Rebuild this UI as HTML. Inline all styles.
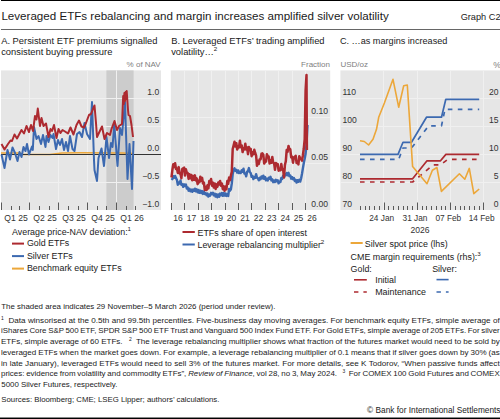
<!DOCTYPE html>
<html><head><meta charset="utf-8"><style>
html,body{margin:0;padding:0;background:#fff;}
body{width:500px;height:419px;position:relative;overflow:hidden;font-family:"Liberation Sans", sans-serif;}
div{font-family:"Liberation Sans", sans-serif;}
.j{position:absolute;left:1.3px;font-size:8.1px;line-height:8.1px;color:#1a1a1a;white-space:pre;}
.j sup{font-size:5px;vertical-align:3px;line-height:0;}
sup{line-height:0;}
svg{position:absolute;left:0;top:0;}
</style></head><body>
<svg width="500" height="419" viewBox="0 0 500 419">
<rect x="1.00" y="70.40" width="160.00" height="139.60" fill="#e6e6e6"/>
<rect x="106.40" y="70.40" width="27.20" height="139.60" fill="#cccccc"/>
<line x1="29.50" y1="70.40" x2="29.50" y2="210.00" stroke="#f0f0f0" stroke-width="1"/>
<line x1="58.50" y1="70.40" x2="58.50" y2="210.00" stroke="#f0f0f0" stroke-width="1"/>
<line x1="87.50" y1="70.40" x2="87.50" y2="210.00" stroke="#f0f0f0" stroke-width="1"/>
<line x1="116.50" y1="70.40" x2="116.50" y2="210.00" stroke="#f0f0f0" stroke-width="1"/>
<line x1="1.00" y1="98.50" x2="161.00" y2="98.50" stroke="#f0f0f0" stroke-width="1"/>
<line x1="1.00" y1="126.50" x2="161.00" y2="126.50" stroke="#f0f0f0" stroke-width="1"/>
<line x1="1.00" y1="182.50" x2="161.00" y2="182.50" stroke="#f0f0f0" stroke-width="1"/>
<line x1="1.50" y1="202.50" x2="1.50" y2="210.00" stroke="#5a5a5a" stroke-width="1"/>
<line x1="29.50" y1="202.50" x2="29.50" y2="210.00" stroke="#5a5a5a" stroke-width="1"/>
<line x1="58.50" y1="202.50" x2="58.50" y2="210.00" stroke="#5a5a5a" stroke-width="1"/>
<line x1="87.50" y1="202.50" x2="87.50" y2="210.00" stroke="#5a5a5a" stroke-width="1"/>
<line x1="116.50" y1="202.50" x2="116.50" y2="210.00" stroke="#5a5a5a" stroke-width="1"/>
<line x1="11.50" y1="206.00" x2="11.50" y2="210.00" stroke="#5a5a5a" stroke-width="1"/>
<line x1="19.50" y1="206.00" x2="19.50" y2="210.00" stroke="#5a5a5a" stroke-width="1"/>
<line x1="39.50" y1="206.00" x2="39.50" y2="210.00" stroke="#5a5a5a" stroke-width="1"/>
<line x1="49.50" y1="206.00" x2="49.50" y2="210.00" stroke="#5a5a5a" stroke-width="1"/>
<line x1="68.50" y1="206.00" x2="68.50" y2="210.00" stroke="#5a5a5a" stroke-width="1"/>
<line x1="78.50" y1="206.00" x2="78.50" y2="210.00" stroke="#5a5a5a" stroke-width="1"/>
<line x1="97.50" y1="206.00" x2="97.50" y2="210.00" stroke="#5a5a5a" stroke-width="1"/>
<line x1="106.50" y1="206.00" x2="106.50" y2="210.00" stroke="#5a5a5a" stroke-width="1"/>
<line x1="126.50" y1="206.00" x2="126.50" y2="210.00" stroke="#5a5a5a" stroke-width="1"/>
<line x1="135.50" y1="206.00" x2="135.50" y2="210.00" stroke="#5a5a5a" stroke-width="1"/>
<rect x="170.80" y="70.40" width="159.40" height="139.60" fill="#e6e6e6"/>
<line x1="184.50" y1="70.40" x2="184.50" y2="210.00" stroke="#f0f0f0" stroke-width="1"/>
<line x1="198.50" y1="70.40" x2="198.50" y2="210.00" stroke="#f0f0f0" stroke-width="1"/>
<line x1="211.50" y1="70.40" x2="211.50" y2="210.00" stroke="#f0f0f0" stroke-width="1"/>
<line x1="225.50" y1="70.40" x2="225.50" y2="210.00" stroke="#f0f0f0" stroke-width="1"/>
<line x1="238.50" y1="70.40" x2="238.50" y2="210.00" stroke="#f0f0f0" stroke-width="1"/>
<line x1="251.50" y1="70.40" x2="251.50" y2="210.00" stroke="#f0f0f0" stroke-width="1"/>
<line x1="265.50" y1="70.40" x2="265.50" y2="210.00" stroke="#f0f0f0" stroke-width="1"/>
<line x1="278.50" y1="70.40" x2="278.50" y2="210.00" stroke="#f0f0f0" stroke-width="1"/>
<line x1="292.50" y1="70.40" x2="292.50" y2="210.00" stroke="#f0f0f0" stroke-width="1"/>
<line x1="305.50" y1="70.40" x2="305.50" y2="210.00" stroke="#f0f0f0" stroke-width="1"/>
<line x1="170.80" y1="117.50" x2="330.20" y2="117.50" stroke="#f0f0f0" stroke-width="1"/>
<line x1="170.80" y1="163.50" x2="330.20" y2="163.50" stroke="#f0f0f0" stroke-width="1"/>
<line x1="171.50" y1="203.00" x2="171.50" y2="210.00" stroke="#5a5a5a" stroke-width="1"/>
<line x1="184.50" y1="203.00" x2="184.50" y2="210.00" stroke="#5a5a5a" stroke-width="1"/>
<line x1="198.50" y1="203.00" x2="198.50" y2="210.00" stroke="#5a5a5a" stroke-width="1"/>
<line x1="211.50" y1="203.00" x2="211.50" y2="210.00" stroke="#5a5a5a" stroke-width="1"/>
<line x1="225.50" y1="203.00" x2="225.50" y2="210.00" stroke="#5a5a5a" stroke-width="1"/>
<line x1="238.50" y1="203.00" x2="238.50" y2="210.00" stroke="#5a5a5a" stroke-width="1"/>
<line x1="251.50" y1="203.00" x2="251.50" y2="210.00" stroke="#5a5a5a" stroke-width="1"/>
<line x1="265.50" y1="203.00" x2="265.50" y2="210.00" stroke="#5a5a5a" stroke-width="1"/>
<line x1="278.50" y1="203.00" x2="278.50" y2="210.00" stroke="#5a5a5a" stroke-width="1"/>
<line x1="292.50" y1="203.00" x2="292.50" y2="210.00" stroke="#5a5a5a" stroke-width="1"/>
<line x1="305.50" y1="203.00" x2="305.50" y2="210.00" stroke="#5a5a5a" stroke-width="1"/>
<rect x="340.40" y="70.40" width="159.60" height="139.60" fill="#e6e6e6"/>
<line x1="383.50" y1="70.40" x2="383.50" y2="210.00" stroke="#f0f0f0" stroke-width="1"/>
<line x1="417.50" y1="70.40" x2="417.50" y2="210.00" stroke="#f0f0f0" stroke-width="1"/>
<line x1="450.50" y1="70.40" x2="450.50" y2="210.00" stroke="#f0f0f0" stroke-width="1"/>
<line x1="483.50" y1="70.40" x2="483.50" y2="210.00" stroke="#f0f0f0" stroke-width="1"/>
<line x1="340.40" y1="98.50" x2="500.00" y2="98.50" stroke="#f0f0f0" stroke-width="1"/>
<line x1="340.40" y1="126.50" x2="500.00" y2="126.50" stroke="#f0f0f0" stroke-width="1"/>
<line x1="340.40" y1="154.50" x2="500.00" y2="154.50" stroke="#f0f0f0" stroke-width="1"/>
<line x1="340.40" y1="182.50" x2="500.00" y2="182.50" stroke="#f0f0f0" stroke-width="1"/>
<line x1="360.50" y1="206.00" x2="360.50" y2="210.00" stroke="#5a5a5a" stroke-width="1"/>
<line x1="365.50" y1="206.00" x2="365.50" y2="210.00" stroke="#5a5a5a" stroke-width="1"/>
<line x1="369.50" y1="206.00" x2="369.50" y2="210.00" stroke="#5a5a5a" stroke-width="1"/>
<line x1="374.50" y1="206.00" x2="374.50" y2="210.00" stroke="#5a5a5a" stroke-width="1"/>
<line x1="379.50" y1="206.00" x2="379.50" y2="210.00" stroke="#5a5a5a" stroke-width="1"/>
<line x1="384.50" y1="202.50" x2="384.50" y2="210.00" stroke="#5a5a5a" stroke-width="1"/>
<line x1="388.50" y1="206.00" x2="388.50" y2="210.00" stroke="#5a5a5a" stroke-width="1"/>
<line x1="393.50" y1="206.00" x2="393.50" y2="210.00" stroke="#5a5a5a" stroke-width="1"/>
<line x1="398.50" y1="206.00" x2="398.50" y2="210.00" stroke="#5a5a5a" stroke-width="1"/>
<line x1="403.50" y1="206.00" x2="403.50" y2="210.00" stroke="#5a5a5a" stroke-width="1"/>
<line x1="407.50" y1="206.00" x2="407.50" y2="210.00" stroke="#5a5a5a" stroke-width="1"/>
<line x1="412.50" y1="206.00" x2="412.50" y2="210.00" stroke="#5a5a5a" stroke-width="1"/>
<line x1="417.50" y1="202.50" x2="417.50" y2="210.00" stroke="#5a5a5a" stroke-width="1"/>
<line x1="422.50" y1="206.00" x2="422.50" y2="210.00" stroke="#5a5a5a" stroke-width="1"/>
<line x1="426.50" y1="206.00" x2="426.50" y2="210.00" stroke="#5a5a5a" stroke-width="1"/>
<line x1="431.50" y1="206.00" x2="431.50" y2="210.00" stroke="#5a5a5a" stroke-width="1"/>
<line x1="436.50" y1="206.00" x2="436.50" y2="210.00" stroke="#5a5a5a" stroke-width="1"/>
<line x1="441.50" y1="206.00" x2="441.50" y2="210.00" stroke="#5a5a5a" stroke-width="1"/>
<line x1="445.50" y1="206.00" x2="445.50" y2="210.00" stroke="#5a5a5a" stroke-width="1"/>
<line x1="450.50" y1="202.50" x2="450.50" y2="210.00" stroke="#5a5a5a" stroke-width="1"/>
<line x1="455.50" y1="206.00" x2="455.50" y2="210.00" stroke="#5a5a5a" stroke-width="1"/>
<line x1="460.50" y1="206.00" x2="460.50" y2="210.00" stroke="#5a5a5a" stroke-width="1"/>
<line x1="464.50" y1="206.00" x2="464.50" y2="210.00" stroke="#5a5a5a" stroke-width="1"/>
<line x1="469.50" y1="206.00" x2="469.50" y2="210.00" stroke="#5a5a5a" stroke-width="1"/>
<line x1="474.50" y1="206.00" x2="474.50" y2="210.00" stroke="#5a5a5a" stroke-width="1"/>
<line x1="479.50" y1="206.00" x2="479.50" y2="210.00" stroke="#5a5a5a" stroke-width="1"/>
<line x1="483.50" y1="202.50" x2="483.50" y2="210.00" stroke="#5a5a5a" stroke-width="1"/>
<line x1="12.00" y1="243.60" x2="24.00" y2="243.60" stroke="#ad2a30" stroke-width="2"/>
<line x1="12.00" y1="256.10" x2="24.00" y2="256.10" stroke="#3c69b0" stroke-width="2"/>
<line x1="12.00" y1="268.60" x2="24.00" y2="268.60" stroke="#eca73a" stroke-width="2"/>
<line x1="182.50" y1="232.00" x2="194.80" y2="232.00" stroke="#ad2a30" stroke-width="2"/>
<line x1="182.50" y1="244.50" x2="194.80" y2="244.50" stroke="#3c69b0" stroke-width="2"/>
<line x1="350.60" y1="243.00" x2="362.70" y2="243.00" stroke="#eca73a" stroke-width="2"/>
<line x1="354.00" y1="279.80" x2="366.80" y2="279.80" stroke="#ad2a30" stroke-width="1.6"/>
<line x1="354.00" y1="292.00" x2="366.80" y2="292.00" stroke="#ad2a30" stroke-width="1.6" stroke-dasharray="4.4 5"/>
<line x1="436.50" y1="279.60" x2="448.60" y2="279.60" stroke="#3c69b0" stroke-width="1.6"/>
<line x1="436.50" y1="292.00" x2="448.60" y2="292.00" stroke="#3c69b0" stroke-width="1.6" stroke-dasharray="4.4 5"/>
<polyline points="1.00,153.00 20.00,153.00 22.00,154.50 50.00,154.50 62.00,153.00 80.00,152.80 123.00,153.00 133.50,153.50" fill="none" stroke="#eca73a" stroke-width="1.6" stroke-linejoin="round"/>
<line x1="1.00" y1="154.50" x2="161.00" y2="154.50" stroke="#333333" stroke-width="1"/>
<polyline points="1.50,154.50 4.50,168.00 7.50,150.00 10.00,159.50 12.50,147.50 15.00,153.00 17.50,161.00 19.50,152.00 21.50,157.00 23.50,147.00 25.50,151.00 27.00,144.00 29.00,154.50 32.00,146.50 32.80,150.00 34.00,127.00 36.50,139.00 38.50,136.00 41.00,144.00 43.00,135.00 45.50,147.00 46.50,136.00 48.50,142.00 50.50,135.00 52.50,138.00 53.50,134.00 56.00,149.00 58.00,140.00 60.00,145.00 62.00,139.00 64.00,150.00 66.00,142.00 68.00,151.00 70.00,136.00 72.50,149.00 74.50,151.00 77.00,134.00 79.50,132.00 82.00,137.00 84.50,123.00 87.00,134.00 90.00,139.00 92.00,102.00 94.00,160.00 94.50,170.00 97.00,181.00 98.50,158.00 101.50,148.50 104.00,166.00 106.50,137.00 109.00,158.00 111.00,143.00 112.50,147.00 114.30,124.00 117.50,166.00 120.00,128.00 122.00,135.00 125.00,102.00 127.50,179.00 129.50,144.00 132.00,189.00 133.50,141.00" fill="none" stroke="#3c69b0" stroke-width="2.0" stroke-linejoin="round"/>
<polyline points="1.50,144.00 4.50,149.50 8.00,144.00 10.50,140.50 12.00,141.00 14.50,134.50 17.00,138.50 21.50,130.00 24.00,133.50 26.50,126.00 29.00,132.00 31.00,125.00 33.00,131.00 35.00,116.00 36.50,119.50 37.80,108.50 40.00,126.00 41.50,118.00 43.50,126.00 46.00,123.50 48.50,137.00 50.50,129.00 52.00,131.00 54.00,125.00 56.50,138.00 58.50,129.00 60.50,133.00 62.50,130.00 65.00,131.50 68.00,133.50 70.50,127.50 73.50,134.50 76.50,125.00 79.00,120.50 81.50,126.50 84.00,127.50 86.00,123.00 89.00,115.00 91.00,114.00 93.00,109.00 94.50,105.50 96.00,123.00 97.00,137.00 102.00,126.50 104.50,139.00 107.00,133.00 110.00,135.00 111.50,129.00 114.50,121.00 117.00,130.00 119.00,126.00 122.00,124.00 123.20,96.00 123.80,104.00 124.40,93.00 125.00,101.00 125.60,92.00 126.20,99.00 126.70,91.00 127.30,100.00 128.00,110.00 128.50,115.00 130.00,116.00 131.50,125.00 133.00,137.00" fill="none" stroke="#ad2a30" stroke-width="2.0" stroke-linejoin="round"/>
<polyline points="171.50,178.19 172.40,179.19 173.30,176.27 174.20,177.74 175.10,175.89 176.00,178.16 176.90,179.81 177.80,184.70 178.70,182.61 179.60,183.53 180.50,180.50 181.40,184.82 182.30,184.25 183.20,186.80 184.10,184.29 185.00,185.90 185.90,184.47 186.80,188.46 187.70,187.45 188.60,190.67 189.50,188.80 190.40,191.26 191.30,189.64 192.20,191.83 193.10,189.60 194.00,190.88 194.90,188.65 195.80,191.29 196.70,189.32 197.60,192.26 198.50,189.88 199.40,192.78 200.30,190.62 201.20,193.12 202.10,191.05 203.00,193.94 203.90,191.56 204.80,194.09 205.70,193.13 206.60,195.20 207.50,193.53 208.40,196.59 209.30,194.54 210.20,195.67 211.10,192.84 212.00,193.95 212.90,192.68 213.80,195.33 214.70,193.67 215.60,196.61 216.50,194.29 217.40,197.24 218.30,194.45 219.20,196.78 220.10,193.55 221.00,195.15 221.90,193.03 222.80,195.87 223.70,192.99 224.60,195.51 225.50,193.42 226.40,195.94 227.30,194.28 228.20,195.99 229.10,188.97 230.00,190.71 230.90,189.26 231.80,183.42 232.70,174.38 233.60,170.02 234.50,168.38 235.40,170.74 236.30,169.79 237.20,172.53 238.10,170.42 239.00,173.01 239.90,171.78 240.80,172.97 241.70,170.34 242.60,171.73 243.50,168.69 244.40,173.59 245.30,173.43 246.20,176.32 247.10,171.74 248.00,171.08 248.90,168.07 249.80,172.12 250.70,172.99 251.60,176.90 252.50,175.97 253.40,179.05 254.30,177.14 255.20,177.78 256.10,174.13 257.00,177.73 257.90,178.22 258.80,180.37 259.70,177.77 260.60,179.21 261.50,176.48 262.40,178.37 263.30,175.70 264.20,178.81 265.10,177.05 266.00,180.40 266.90,178.87 267.80,180.48 268.70,177.79 269.60,178.85 270.50,176.82 271.40,180.46 272.30,179.38 273.20,182.17 274.10,180.44 275.00,182.05 275.90,179.82 276.80,181.29 277.70,180.23 278.60,183.31 279.50,181.74 280.40,182.12 281.30,178.09 282.20,178.89 283.10,175.78 284.00,177.32 284.90,174.49 285.80,175.30 286.70,173.04 287.60,175.32 288.50,172.84 289.40,176.13 290.30,175.44 291.20,178.65 292.10,177.14 293.00,179.25 293.90,178.05 294.80,180.99 295.70,179.86 296.60,182.55 297.50,180.20 298.40,181.74 299.30,179.62 300.20,181.60 301.10,178.50 302.00,173.75 302.90,168.24 303.80,162.94 304.70,158.80 305.60,153.77 306.50,144.08 307.40,127.00 307.50,125.00" fill="none" stroke="#3c69b0" stroke-width="2.4" stroke-linejoin="round"/>
<polyline points="171.50,177.51 172.40,169.77 173.30,164.21 174.20,166.87 175.10,163.28 176.00,169.04 176.90,168.61 177.80,172.86 178.70,167.12 179.60,173.52 180.50,173.64 181.40,178.16 182.30,168.80 183.20,168.39 184.10,167.64 185.00,175.61 185.90,169.32 186.80,172.55 187.70,172.88 188.60,178.88 189.50,174.23 190.40,178.28 191.30,175.07 192.20,180.16 193.10,175.95 194.00,179.68 194.90,175.36 195.80,180.39 196.70,178.40 197.60,184.14 198.50,180.89 199.40,182.25 200.30,176.66 201.20,180.66 202.10,177.86 203.00,183.43 203.90,182.67 204.80,190.03 205.70,186.97 206.60,189.93 207.50,185.15 208.40,188.40 209.30,180.96 210.20,183.54 211.10,179.08 212.00,185.68 212.90,182.71 213.80,187.61 214.70,183.43 215.60,188.91 216.50,184.38 217.40,186.86 218.30,182.43 219.20,184.50 220.10,180.93 221.00,185.78 221.90,183.56 222.80,189.15 223.70,186.32 224.60,190.82 225.50,186.57 226.40,189.25 227.30,181.03 228.20,183.76 229.10,177.62 230.00,180.31 230.90,175.49 231.80,171.69 232.70,149.06 233.60,145.53 234.50,141.75 235.40,146.43 236.30,143.30 237.20,149.52 238.10,146.63 239.00,147.34 239.90,140.71 240.80,147.19 241.70,145.38 242.60,152.08 243.50,148.60 244.40,149.46 245.30,143.79 246.20,149.43 247.10,147.31 248.00,154.17 248.90,147.00 249.80,149.95 250.70,148.95 251.60,156.22 252.50,152.26 253.40,154.30 254.30,149.78 255.20,152.97 256.10,155.69 257.00,165.83 257.90,160.89 258.80,164.02 259.70,159.28 260.60,159.22 261.50,153.69 262.40,153.36 263.30,154.72 264.20,163.50 265.10,161.98 266.00,161.62 266.90,154.22 267.80,156.25 268.70,156.55 269.60,163.51 270.50,160.19 271.40,162.71 272.30,157.07 273.20,162.67 274.10,163.19 275.00,169.83 275.90,162.90 276.80,164.52 277.70,164.04 278.60,170.65 279.50,169.56 280.40,170.28 281.30,163.95 282.20,169.61 283.10,169.33 284.00,177.47 284.90,165.07 285.80,161.31 286.70,149.95 287.60,151.92 288.50,145.94 289.40,149.01 290.30,149.30 291.20,157.46 292.10,156.58 293.00,162.69 293.90,157.39 294.80,157.09 295.70,155.86 296.60,162.99 297.50,162.02 298.40,164.36 299.30,156.17 300.20,158.38 301.10,159.16 302.00,160.61 302.90,155.26 303.80,148.54 304.70,139.05 305.60,90.57 306.50,75.00 306.90,150.00" fill="none" stroke="#ad2a30" stroke-width="2.5" stroke-linejoin="round"/>
<polyline points="360.00,182.00 412.60,182.00 433.30,164.80 440.50,164.80 447.70,159.40 479.20,159.40" fill="none" stroke="#ad2a30" stroke-width="1.7" stroke-linejoin="round" stroke-dasharray="4.6 5.4"/>
<polyline points="360.00,178.80 412.60,178.80 427.00,160.80 440.50,160.80 445.90,154.40 479.20,154.40" fill="none" stroke="#ad2a30" stroke-width="1.7" stroke-linejoin="round"/>
<polyline points="360.00,159.40 398.70,159.40 402.90,148.00 411.50,148.00 428.70,125.80 441.50,125.80 445.00,109.30 479.20,109.30" fill="none" stroke="#3c69b0" stroke-width="1.7" stroke-linejoin="round" stroke-dasharray="4.6 5.4"/>
<polyline points="360.00,154.40 398.00,154.40 403.00,142.30 411.50,142.30 426.50,117.20 441.50,117.20 445.80,99.30 479.20,99.30" fill="none" stroke="#3c69b0" stroke-width="1.7" stroke-linejoin="round"/>
<polyline points="360.00,140.80 364.30,141.50 368.60,145.00 373.00,139.30 376.50,129.30 378.70,117.30 384.40,103.00 393.00,79.30 398.70,107.20 403.70,85.80 407.30,85.00 412.60,166.60 427.00,183.70 432.40,170.20 436.90,167.50 441.40,191.40 459.40,173.80 464.80,179.20 469.30,168.40 473.80,193.60 479.20,189.00" fill="none" stroke="#eca73a" stroke-width="1.6" stroke-linejoin="round"/>
</svg>
<div style="position:absolute;left:1px;top:0px;width:499px;height:1px;background:#000"></div>
<div style="position:absolute;left:1.40px;top:9.98px;font-size:11.6px;line-height:11.6px;color:#1a1a1a;white-space:pre;">Leveraged ETFs rebalancing and margin increases amplified silver volatility</div>
<div style="position:absolute;right:-0.50px;top:12.61px;font-size:9.2px;line-height:9.2px;color:#1a1a1a;white-space:pre;">Graph C2</div>
<div style="position:absolute;left:1px;top:29px;width:499px;height:1px;background:#666"></div>
<div style="position:absolute;left:1.20px;top:36.59px;font-size:9.35px;line-height:9.35px;color:#1a1a1a;white-space:pre;">A. Persistent ETF premiums signalled</div>
<div style="position:absolute;left:1.20px;top:47.79px;font-size:9.35px;line-height:9.35px;color:#1a1a1a;white-space:pre;">consistent buying pressure</div>
<div style="position:absolute;left:171.20px;top:36.59px;font-size:9.35px;line-height:9.35px;color:#1a1a1a;white-space:pre;">B. Leveraged ETFs’ trading amplified</div>
<div style="position:absolute;left:171.20px;top:47.79px;font-size:9.35px;line-height:9.35px;color:#1a1a1a;white-space:pre;">volatility…<sup style="font-size:6.2px;vertical-align:4px;line-height:0">2</sup></div>
<div style="position:absolute;left:339.90px;top:36.75px;font-size:9.15px;line-height:9.15px;color:#1a1a1a;white-space:pre;">C. …as margins increased</div>
<div style="position:absolute;right:339.30px;top:61.33px;font-size:8.0px;line-height:8.0px;color:#808080;white-space:pre;">% of NAV</div>
<div style="position:absolute;right:170.00px;top:61.33px;font-size:8.0px;line-height:8.0px;color:#808080;white-space:pre;">Fraction</div>
<div style="position:absolute;left:340.40px;top:61.33px;font-size:8.0px;line-height:8.0px;color:#808080;white-space:pre;">USD/oz</div>
<div style="position:absolute;right:-1.00px;top:61.02px;font-size:8.6px;line-height:8.6px;color:#808080;white-space:pre;">%</div>
<div style="position:absolute;right:340.80px;top:88.42px;font-size:8.6px;line-height:8.6px;color:#333333;white-space:pre;">1.0</div>
<div style="position:absolute;right:340.80px;top:116.42px;font-size:8.6px;line-height:8.6px;color:#333333;white-space:pre;">0.5</div>
<div style="position:absolute;right:340.80px;top:144.42px;font-size:8.6px;line-height:8.6px;color:#333333;white-space:pre;">0.0</div>
<div style="position:absolute;right:340.80px;top:172.42px;font-size:8.6px;line-height:8.6px;color:#333333;white-space:pre;">−0.5</div>
<div style="position:absolute;right:340.80px;top:199.92px;font-size:8.6px;line-height:8.6px;color:#333333;white-space:pre;">−1.0</div>
<div style="position:absolute;left:16.00px;transform:translateX(-50%);top:214.22px;font-size:8.6px;line-height:8.6px;color:#333333;white-space:pre;">Q1 25</div>
<div style="position:absolute;left:45.00px;transform:translateX(-50%);top:214.22px;font-size:8.6px;line-height:8.6px;color:#333333;white-space:pre;">Q2 25</div>
<div style="position:absolute;left:74.00px;transform:translateX(-50%);top:214.22px;font-size:8.6px;line-height:8.6px;color:#333333;white-space:pre;">Q3 25</div>
<div style="position:absolute;left:103.00px;transform:translateX(-50%);top:214.22px;font-size:8.6px;line-height:8.6px;color:#333333;white-space:pre;">Q4 25</div>
<div style="position:absolute;left:132.00px;transform:translateX(-50%);top:214.22px;font-size:8.6px;line-height:8.6px;color:#333333;white-space:pre;">Q1 26</div>
<div style="position:absolute;right:172.00px;top:107.42px;font-size:8.6px;line-height:8.6px;color:#333333;white-space:pre;">0.10</div>
<div style="position:absolute;right:172.00px;top:153.42px;font-size:8.6px;line-height:8.6px;color:#333333;white-space:pre;">0.05</div>
<div style="position:absolute;right:172.00px;top:199.92px;font-size:8.6px;line-height:8.6px;color:#333333;white-space:pre;">0.00</div>
<div style="position:absolute;left:178.00px;transform:translateX(-50%);top:214.10px;font-size:8.5px;line-height:8.5px;color:#333333;white-space:pre;">16</div>
<div style="position:absolute;left:191.40px;transform:translateX(-50%);top:214.10px;font-size:8.5px;line-height:8.5px;color:#333333;white-space:pre;">17</div>
<div style="position:absolute;left:204.80px;transform:translateX(-50%);top:214.10px;font-size:8.5px;line-height:8.5px;color:#333333;white-space:pre;">18</div>
<div style="position:absolute;left:218.20px;transform:translateX(-50%);top:214.10px;font-size:8.5px;line-height:8.5px;color:#333333;white-space:pre;">19</div>
<div style="position:absolute;left:231.60px;transform:translateX(-50%);top:214.10px;font-size:8.5px;line-height:8.5px;color:#333333;white-space:pre;">20</div>
<div style="position:absolute;left:245.00px;transform:translateX(-50%);top:214.10px;font-size:8.5px;line-height:8.5px;color:#333333;white-space:pre;">21</div>
<div style="position:absolute;left:258.40px;transform:translateX(-50%);top:214.10px;font-size:8.5px;line-height:8.5px;color:#333333;white-space:pre;">22</div>
<div style="position:absolute;left:271.80px;transform:translateX(-50%);top:214.10px;font-size:8.5px;line-height:8.5px;color:#333333;white-space:pre;">23</div>
<div style="position:absolute;left:285.20px;transform:translateX(-50%);top:214.10px;font-size:8.5px;line-height:8.5px;color:#333333;white-space:pre;">24</div>
<div style="position:absolute;left:298.60px;transform:translateX(-50%);top:214.10px;font-size:8.5px;line-height:8.5px;color:#333333;white-space:pre;">25</div>
<div style="position:absolute;left:312.00px;transform:translateX(-50%);top:214.10px;font-size:8.5px;line-height:8.5px;color:#333333;white-space:pre;">26</div>
<div style="position:absolute;left:342.40px;top:88.42px;font-size:8.6px;line-height:8.6px;color:#333333;white-space:pre;">110</div>
<div style="position:absolute;left:342.40px;top:116.42px;font-size:8.6px;line-height:8.6px;color:#333333;white-space:pre;">100</div>
<div style="position:absolute;left:342.40px;top:144.42px;font-size:8.6px;line-height:8.6px;color:#333333;white-space:pre;">90</div>
<div style="position:absolute;left:342.40px;top:172.42px;font-size:8.6px;line-height:8.6px;color:#333333;white-space:pre;">80</div>
<div style="position:absolute;left:342.40px;top:199.92px;font-size:8.6px;line-height:8.6px;color:#333333;white-space:pre;">70</div>
<div style="position:absolute;right:1.40px;top:88.42px;font-size:8.6px;line-height:8.6px;color:#333333;white-space:pre;">20</div>
<div style="position:absolute;right:1.40px;top:116.42px;font-size:8.6px;line-height:8.6px;color:#333333;white-space:pre;">15</div>
<div style="position:absolute;right:1.40px;top:144.42px;font-size:8.6px;line-height:8.6px;color:#333333;white-space:pre;">10</div>
<div style="position:absolute;right:1.40px;top:172.42px;font-size:8.6px;line-height:8.6px;color:#333333;white-space:pre;">5</div>
<div style="position:absolute;right:1.40px;top:199.92px;font-size:8.6px;line-height:8.6px;color:#333333;white-space:pre;">0</div>
<div style="position:absolute;left:381.70px;transform:translateX(-50%);top:213.97px;font-size:8.3px;line-height:8.3px;color:#333333;white-space:pre;">24 Jan</div>
<div style="position:absolute;left:415.00px;transform:translateX(-50%);top:213.97px;font-size:8.3px;line-height:8.3px;color:#333333;white-space:pre;">31 Jan</div>
<div style="position:absolute;left:448.30px;transform:translateX(-50%);top:213.97px;font-size:8.3px;line-height:8.3px;color:#333333;white-space:pre;">07 Feb</div>
<div style="position:absolute;left:481.60px;transform:translateX(-50%);top:213.97px;font-size:8.3px;line-height:8.3px;color:#333333;white-space:pre;">14 Feb</div>
<div style="position:absolute;left:420.00px;transform:translateX(-50%);top:225.52px;font-size:8.6px;line-height:8.6px;color:#333333;white-space:pre;">2026</div>
<div style="position:absolute;left:12.00px;top:228.07px;font-size:8.9px;line-height:8.9px;color:#1a1a1a;white-space:pre;">Average price-NAV deviation:<sup style="font-size:6.2px;vertical-align:4px;line-height:0">1</sup></div>
<div style="position:absolute;left:26.90px;top:239.47px;font-size:8.9px;line-height:8.9px;color:#1a1a1a;white-space:pre;">Gold ETFs</div>
<div style="position:absolute;left:26.90px;top:251.97px;font-size:8.9px;line-height:8.9px;color:#1a1a1a;white-space:pre;">Silver ETFs</div>
<div style="position:absolute;left:26.90px;top:264.47px;font-size:8.9px;line-height:8.9px;color:#1a1a1a;white-space:pre;">Benchmark equity ETFs</div>
<div style="position:absolute;left:197.50px;top:228.77px;font-size:8.9px;line-height:8.9px;color:#1a1a1a;white-space:pre;">ETFs share of open interest</div>
<div style="position:absolute;left:197.50px;top:241.27px;font-size:8.9px;line-height:8.9px;color:#1a1a1a;white-space:pre;">Leverage rebalancing multiplier<sup style="font-size:6.2px;vertical-align:4px;line-height:0">2</sup></div>
<div style="position:absolute;left:364.80px;top:239.97px;font-size:8.9px;line-height:8.9px;color:#1a1a1a;white-space:pre;">Silver spot price (lhs)</div>
<div style="position:absolute;left:350.60px;top:253.47px;font-size:8.9px;line-height:8.9px;color:#1a1a1a;white-space:pre;">CME margin requirements (rhs):<sup style="font-size:6.2px;vertical-align:4px;line-height:0">3</sup></div>
<div style="position:absolute;left:350.60px;top:264.87px;font-size:8.9px;line-height:8.9px;color:#1a1a1a;white-space:pre;">Gold:</div>
<div style="position:absolute;left:432.20px;top:264.87px;font-size:8.9px;line-height:8.9px;color:#1a1a1a;white-space:pre;">Silver:</div>
<div style="position:absolute;left:375.20px;top:276.07px;font-size:8.9px;line-height:8.9px;color:#1a1a1a;white-space:pre;">Initial</div>
<div style="position:absolute;left:375.20px;top:288.47px;font-size:8.9px;line-height:8.9px;color:#1a1a1a;white-space:pre;">Maintenance</div>
<div style="position:absolute;left:1.30px;top:302.81px;font-size:7.9px;line-height:7.9px;color:#1a1a1a;white-space:pre;">The shaded area indicates 29 November–5 March 2026 (period under review).</div>
<div class="j" id="j0" style="top:316.54px;word-spacing:0.071px;transform:scaleX(1.00287);transform-origin:0 0"><sup>1</sup>  Data winsorised at the 0.5th and 99.5th percentiles. Five-business day moving averages. For benchmark equity ETFs, simple average of</div>
<div class="j" id="j1" style="top:327.29px;word-spacing:-0.549px;transform:scaleX(0.97456);transform-origin:0 0">iShares Core S&amp;P 500 ETF, SPDR S&amp;P 500 ETF Trust and Vanguard 500 Index Fund ETF. For Gold ETFs, simple average of 205 ETFs. For silver</div>
<div class="j" id="j2" style="top:338.04px;word-spacing:-0.107px;transform:scaleX(0.99450);transform-origin:0 0">ETFs, simple average of 60 ETFs.   <sup>2</sup>  The leverage rebalancing multiplier shows what fraction of the futures market would need to be sold by</div>
<div class="j" id="j3" style="top:348.79px;word-spacing:-0.192px;transform:scaleX(0.99136);transform-origin:0 0">leveraged ETFs when the market goes down. For example, a leverage rebalancing multiplier of 0.1 means that if silver goes down by 30% (as</div>
<div class="j" id="j4" style="top:359.54px;word-spacing:0.083px;transform:scaleX(1.00387);transform-origin:0 0">in late January), leveraged ETFs would need to sell 3% of the futures market. For more details, see K Todorov, “When passive funds affect</div>
<div class="j" id="j5" style="top:370.29px;word-spacing:-0.412px;transform:scaleX(0.97981);transform-origin:0 0">prices: evidence from volatility and commodity ETFs”, <i>Review of Finance</i>, vol 28, no 3, May 2024.   <sup>3</sup>  For COMEX 100 Gold Futures and COMEX</div>
<div style="position:absolute;left:1.30px;top:380.81px;font-size:7.9px;line-height:7.9px;color:#1a1a1a;white-space:pre;">5000 Silver Futures, respectively.</div>
<div style="position:absolute;left:1.30px;top:395.90px;font-size:7.8px;line-height:7.8px;color:#1a1a1a;white-space:pre;">Sources: Bloomberg; CME; LSEG Lipper; authors’ calculations.</div>
<div style="position:absolute;right:-0.50px;top:405.97px;font-size:8.3px;line-height:8.3px;color:#1a1a1a;white-space:pre;">© Bank for International Settlements</div>
<div style="position:absolute;left:0px;top:418px;width:500px;height:1px;background:#000"></div>
<div style="position:absolute;left:0px;top:417px;width:500px;height:1px;background:#888"></div>
</body></html>
